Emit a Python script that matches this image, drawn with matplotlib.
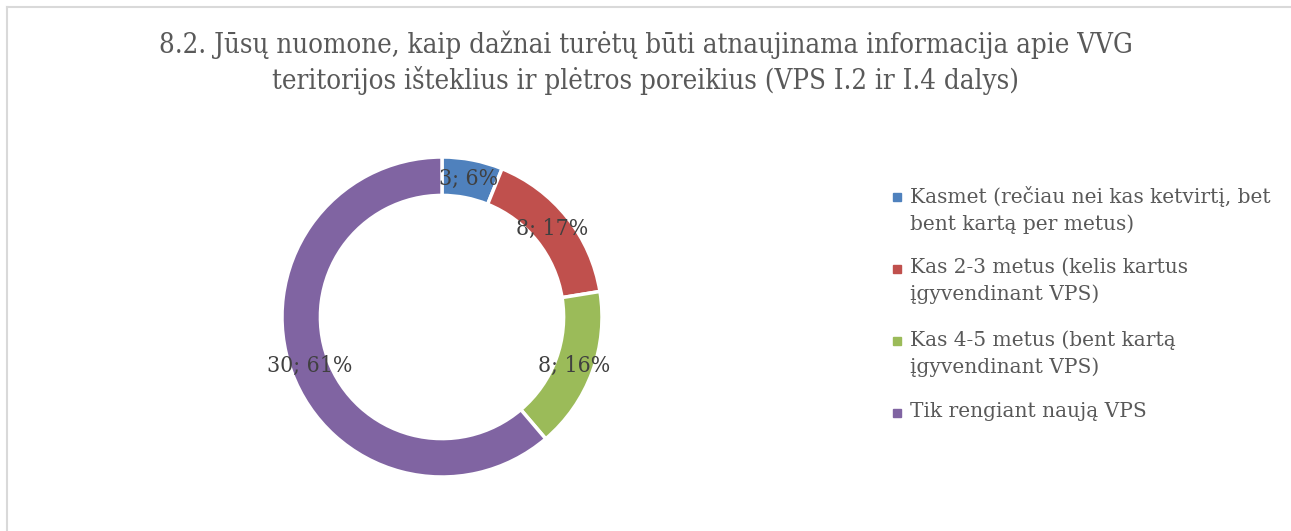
import matplotlib
matplotlib.use("Agg")
import matplotlib.pyplot as plt
from matplotlib.patches import Rectangle
from matplotlib.lines import Line2D
import numpy as np

# data
categories = [
    "Kasmet (rečiau nei kas ketvirtį, bet\nbent kartą per metus)",
    "Kas 2-3 metus (kelis kartus\nįgyvendinant VPS)",
    "Kas 4-5 metus (bent kartą\nįgyvendinant VPS)",
    "Tik rengiant naują VPS",
]
counts = [3, 8, 8, 30]
percents = [6, 17, 16, 61]
colors = ["#4F81BD", "#C0504D", "#9BBB59", "#8064A2"]
title = ("8.2. Jūsų nuomone, kaip dažnai turėtų būti atnaujinama informacija apie VVG\n"
         "teritorijos išteklius ir plėtros poreikius (VPS I.2 ir I.4 dalys)")

W, H = 1291, 531
fig = plt.figure(figsize=(W / 100, H / 100), dpi=100)
plt.rcParams['font.family'] = ['DejaVu Serif']

def fx(px):
    return px / W

def fy(py):
    return 1 - py / H

# chart area border (top and left only visible)
fig.add_artist(Line2D([fx(6.5), 1], [fy(6.5), fy(6.5)], color="#D9D9D9", lw=1.5))
fig.add_artist(Line2D([fx(6.5), fx(6.5)], [fy(6.5), 0], color="#D9D9D9", lw=1.5))

fig.text(0.5, fy(63), title, ha="center", va="center", fontsize=19.8,
         color="#595959", linespacing=1.3, fontstretch="condensed")

# donut
cx, cy, r = 442, 317, 160
ax = fig.add_axes([fx(cx - r), fy(cy + r), r * 2 / W, r * 2 / H])
wedges, _ = ax.pie(counts, colors=colors, startangle=90, counterclock=False,
                   radius=1, wedgeprops=dict(width=0.24, edgecolor="white", linewidth=2.5))
ax.set_xlim(-1, 1)
ax.set_ylim(-1, 1)
ax.set_aspect("equal")
ax.axis("off")

for w, c, p in zip(wedges, counts, percents):
    ang = np.deg2rad((w.theta1 + w.theta2) / 2)
    rr = 0.88
    ax.text(rr * np.cos(ang), rr * np.sin(ang), f"{c}; {p}%", ha="center", va="center",
            fontsize=16.5, color="#404040", fontstretch="condensed")

# legend
y0, step = 197, 72
for i, (lab, col) in enumerate(zip(categories, colors)):
    yc = y0 + step * i
    fig.add_artist(Rectangle((fx(893), fy(yc + 4)), fx(8), 8 / H, color=col,
                             transform=fig.transFigure))
    fig.text(fx(910), fy(yc - 11), lab, ha="left", va="top", fontsize=14.5,
             color="#595959", linespacing=1.5)

fig.savefig("out.png", dpi=100)
